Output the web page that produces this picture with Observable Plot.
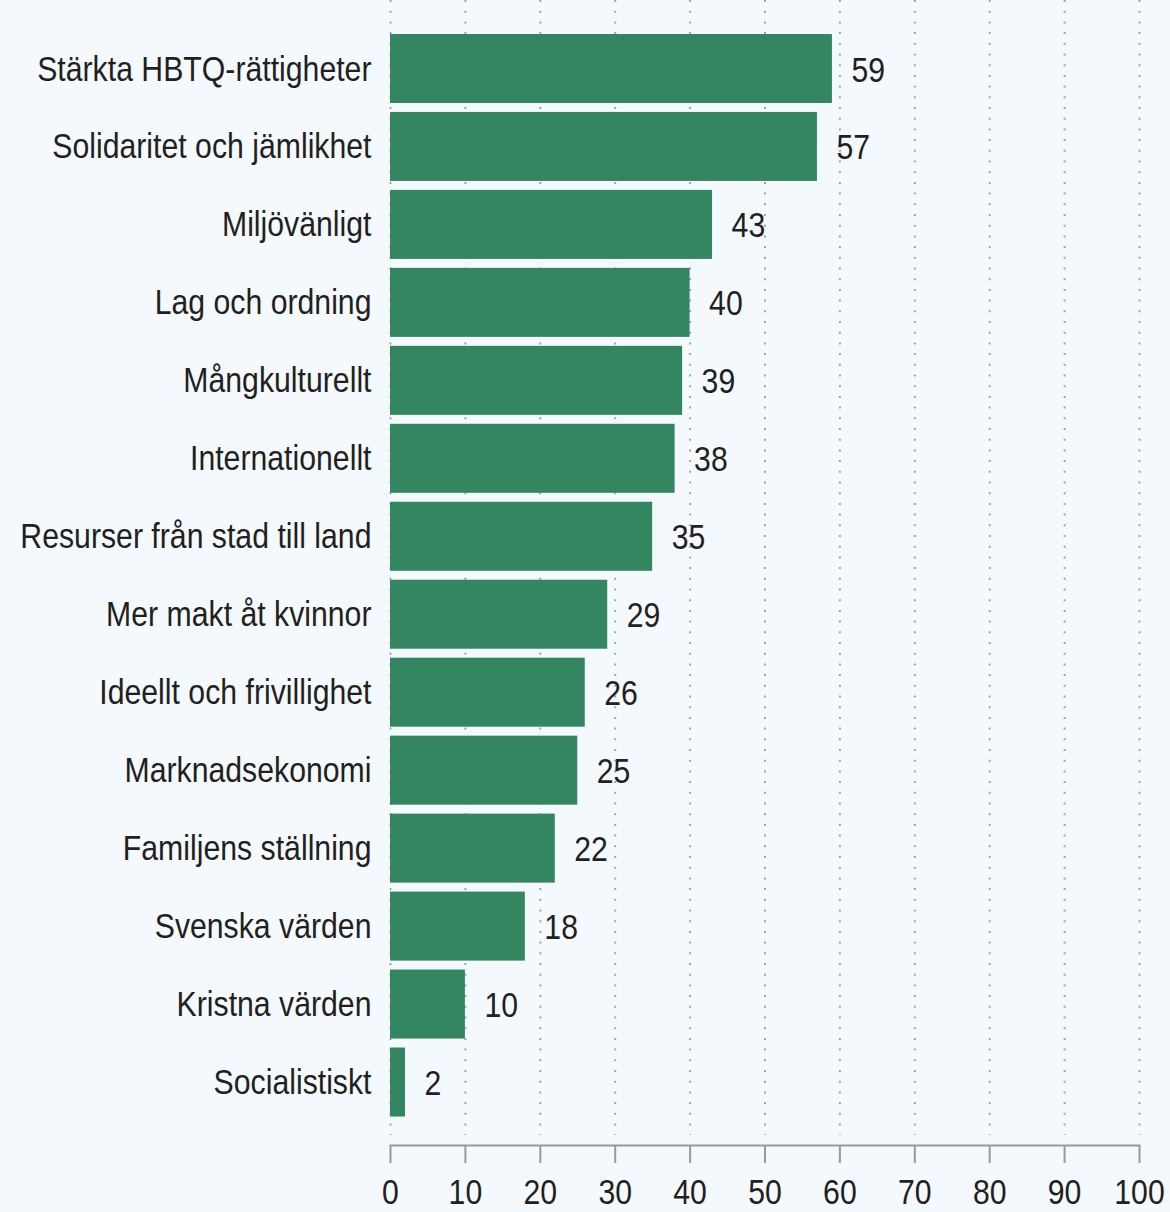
<!DOCTYPE html>
<html>
<head>
<meta charset="utf-8">
<script src="https://cdn.jsdelivr.net/npm/d3@7"></script>
<script src="https://cdn.jsdelivr.net/npm/@observablehq/plot@0.6"></script>
<style>
  html, body { margin: 0; padding: 0; background: #f3f9fd; }
  #chart svg { display: block; }
</style>
</head>
<body>
<div id="chart"></div>
<script>
const categories = [
  "Stärkta HBTQ-rättigheter",
  "Solidaritet och jämlikhet",
  "Miljövänligt",
  "Lag och ordning",
  "Mångkulturellt",
  "Internationellt",
  "Resurser från stad till land",
  "Mer makt åt kvinnor",
  "Ideellt och frivillighet",
  "Marknadsekonomi",
  "Familjens ställning",
  "Svenska värden",
  "Kristna värden",
  "Socialistiskt"
];
const values = [59, 57, 43, 40, 39, 38, 35, 29, 26, 25, 22, 18, 10, 2];
const xTicks = [0, 10, 20, 30, 40, 50, 60, 70, 80, 90, 100];

const data = categories.map((c, i) => ({category: c, value: values[i]}));

const font = "'Liberation Sans', Arial, sans-serif";

const chart = Plot.plot({
  width: 1170,
  height: 1212,
  marginLeft: 390,
  marginRight: 31,
  marginTop: 0,
  marginBottom: 67,
  style: {background: "#f3f9fd", fontFamily: font, color: "#231f20"},
  x: {domain: [0, 100]},
  y: {domain: categories, range: [29.5, 1121], paddingInner: 0.115, paddingOuter: 0.0575, round: false},
  marks: [
    Plot.gridX(xTicks, {stroke: "#a3a3a3", strokeOpacity: 1, strokeWidth: 2, strokeDasharray: "2,8.7", insetBottom: 10}),
    Plot.barX(data, {x: "value", y: "category", fill: "#338660"}),
    Plot.text(data, {x: "value", y: "category", text: d => String(d.value), textAnchor: "start", dx: 19, dy: 1, fontSize: 36, fill: "#231f20"}),
    Plot.axisY({tickSize: 0, tickPadding: 19, fontSize: 36, fill: "#231f20", label: null}),
    Plot.axisX({ticks: xTicks, tickSize: 18, tickPadding: 15, fontSize: 36, stroke: "#9a9a9a", strokeWidth: 2, fill: "#231f20", label: null}),
    Plot.frame({anchor: "bottom", stroke: "#9a9a9a", strokeWidth: 2})
  ]
});

// condense text horizontally about its anchor point (emulates a narrow typeface)
const squeeze = 0.84;
chart.querySelectorAll("text").forEach(t => {
  const x = +(t.getAttribute("x") || 0);
  const tr = t.getAttribute("transform") || "";
  t.setAttribute("transform", `${tr} translate(${x},0) scale(${squeeze},1) translate(${-x},0)`.trim());
});

document.getElementById("chart").appendChild(chart);
</script>
</body>
</html>
